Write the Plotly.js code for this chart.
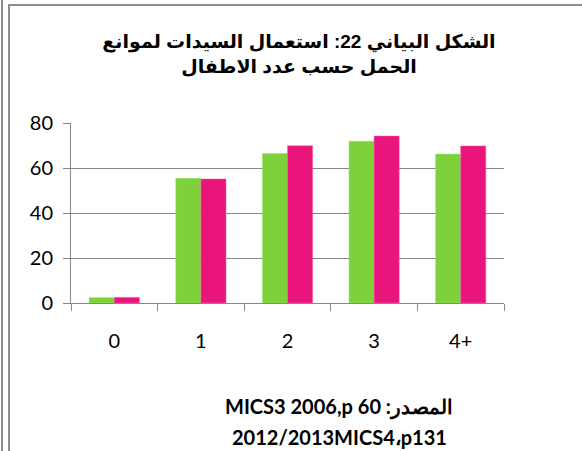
<!DOCTYPE html>
<html>
<head>
<meta charset="utf-8">
<script src="https://cdn.plot.ly/plotly-3.0.1.min.js"></script>
<style>
  body { margin: 0; background: #fff; }
  #wrap { position: relative; width: 582px; height: 451px; overflow: hidden; }
  #chart { position: absolute; left: 0; top: 0; width: 582px; height: 451px; }
  .frame { position: absolute; background: #8e8e8e; pointer-events: none; }
</style>
</head>
<body>
<div id="wrap">
  <div id="chart"></div>
  <div class="frame" style="left:1px; top:0; width:2px; height:451px;"></div>
  <div class="frame" style="left:8px; top:4px; width:2px; height:447px;"></div>
  <div class="frame" style="left:8px; top:4px; width:574px; height:2px;"></div>
</div>
<script>
// Contraceptive use by number of children
const children = ["0", "1", "2", "3", "4+"];
const mics3 = [2.4, 55.4, 66.4, 71.9, 66.2];
const mics4 = [2.5, 55.1, 69.9, 74.2, 69.8];

const titleText = "الشكل البياني 22: استعمال السيدات لموانع<br>الحمل حسب عدد الاطفال";
const sourceLine1 = "\u202Bالمصدر: MICS3 2006,p 60\u202C";
const sourceLine2 = "2012/2013MICS4،p131";

const series2006 = {
  type: "bar",
  x: children,
  y: mics3,
  marker: { color: "#7fd13b", line: { color: "#9ee06a", width: 0.5 } },
  hoverinfo: "skip",
};

const series2013 = {
  type: "bar",
  x: children,
  y: mics4,
  marker: { color: "#ea157a", line: { color: "#f060a0", width: 0.5 } },
  hoverinfo: "skip",
};

const numFont = { family: "Lato, Open Sans, sans-serif", size: 20, color: "#000" };

const layout = {
  width: 582,
  height: 451,
  margin: { t: 123, r: 78, b: 148, l: 71 },
  paper_bgcolor: "#fff",
  plot_bgcolor: "#fff",
  showlegend: false,
  barmode: "group",
  bargap: 0.42,
  bargroupgap: 0,
  title: {
    text: "<b>" + titleText + "</b>",
    x: 299 / 582,
    xref: "container",
    xanchor: "center",
    y: 1 - 48 / 451,
    yref: "container",
    yanchor: "top",
    font: { family: "Liberation Sans, Arial, DejaVu Sans", size: 19, color: "#000" },
  },
  xaxis: {
    type: "category",
    tickson: "boundaries",
    ticks: "outside",
    ticklen: 7,
    tickcolor: "#868686",
    showline: true,
    linecolor: "#868686",
    linewidth: 1,
    showgrid: false,
    tickfont: numFont,
    ticklabelstandoff: 20,
  },
  yaxis: {
    range: [0, 80],
    dtick: 20,
    ticks: "outside",
    ticklen: 7,
    tickcolor: "#868686",
    showline: true,
    linecolor: "#868686",
    showgrid: true,
    gridcolor: "#868686",
    gridwidth: 1,
    zeroline: false,
    tickfont: numFont,
    ticklabelstandoff: 6,
  },
  annotations: [
    {
      text: "<b>" + sourceLine1 + "</b>",
      xref: "paper",
      yref: "paper",
      x: 0.62,
      y: -0.578,
      xanchor: "center",
      yanchor: "middle",
      showarrow: false,
      font: numFont,
    },
    {
      text: "<b>" + sourceLine2 + "</b>",
      xref: "paper",
      yref: "paper",
      x: 0.62,
      y: -0.744,
      xanchor: "center",
      yanchor: "middle",
      showarrow: false,
      font: numFont,
    },
  ],
};

Plotly.newPlot("chart", [series2006, series2013], layout, { displayModeBar: false, staticPlot: true });
</script>
</body>
</html>
